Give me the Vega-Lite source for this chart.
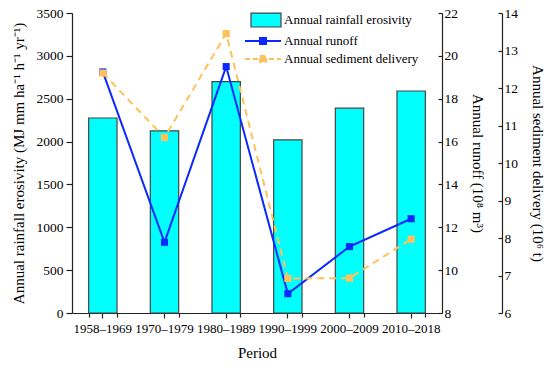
{
  "$schema": "https://vega.github.io/schema/vega-lite/v6.json",
  "width": 370,
  "height": 300,
  "autosize": "none",
  "padding": {"left": 72, "top": 13, "right": 108, "bottom": 53},
  "background": "white",
  "config": {
    "font": "Liberation Serif",
    "view": {"stroke": null},
    "axis": {
      "labelFont": "Liberation Serif",
      "titleFont": "Liberation Serif",
      "labelFontSize": 13,
      "titleFontSize": 15,
      "titleFontWeight": "normal",
      "labelColor": "black",
      "titleColor": "black",
      "domainColor": "#222",
      "tickColor": "#222",
      "domainWidth": 1.2,
      "tickWidth": 1.2,
      "labelOverlap": false,
      "grid": false
    },
    "legend": {"labelFont": "Liberation Serif", "labelFontSize": 13, "labelColor": "black"}
  },
  "data": {
    "values": [
      {"Period": "1958–1969", "erosivity": 2275, "runoff": 19.25, "sediment": 12.4},
      {"Period": "1970–1979", "erosivity": 2125, "runoff": 11.3, "sediment": 10.68},
      {"Period": "1980–1989", "erosivity": 2700, "runoff": 19.5, "sediment": 13.45},
      {"Period": "1990–1999", "erosivity": 2020, "runoff": 8.9, "sediment": 6.92},
      {"Period": "2000–2009", "erosivity": 2390, "runoff": 11.1, "sediment": 6.93},
      {"Period": "2010–2018", "erosivity": 2590, "runoff": 12.4, "sediment": 7.97}
    ]
  },
  "layer": [
    {
      "mark": {"type": "bar", "stroke": "#444", "strokeWidth": 1.2},
      "encoding": {
        "x": {
          "field": "Period", "type": "nominal", "sort": null,
          "scale": {"paddingInner": 0.54, "paddingOuter": 0.27},
          "axis": {"title": "Period", "labelAngle": 0, "tickSize": 5, "labelPadding": 4, "titlePadding": 10, "labelFont": "Liberation Serif", "labelFontSize": 13}
        },
        "y": {
          "field": "erosivity", "type": "quantitative",
          "scale": {"domain": [0, 3500], "nice": false},
          "axis": {"title": "Annual rainfall erosivity (MJ mm ha⁻¹ h⁻¹ yr⁻¹)", "format": "d", "values": [0, 500, 1000, 1500, 2000, 2500, 3000, 3500], "tickSize": 6, "labelPadding": 3, "titlePadding": 10, "labelFont": "Liberation Serif", "labelFontSize": 13.5}
        },
        "fill": {
          "datum": "Annual rainfall erosivity",
          "scale": {"domain": ["Annual rainfall erosivity"], "range": ["#00FFFF"]},
          "legend": {
            "title": null, "orient": "none", "legendX": 178, "legendY": -1.5,
            "symbolType": "M-1,-0.93H3V0.93H-1Z", "symbolSize": 225,
            "symbolStrokeColor": "#444", "symbolStrokeWidth": 1.2, "labelOffset": 17, "padding": 0
          }
        }
      }
    },
    {
      "encoding": {
        "x": {
          "field": "Period", "type": "nominal", "sort": null,
          "axis": {"title": null, "orient": "bottom", "labels": false, "domain": false, "tickBand": "extent", "tickSize": 4}
        },
        "y": {
          "field": "runoff", "type": "quantitative",
          "scale": {"domain": [8, 22], "nice": false},
          "axis": {"orient": "right", "title": "Annual runoff (10⁸ m³)", "format": "d", "values": [8, 10, 12, 14, 16, 18, 20, 22], "tickSize": -4, "labelPadding": 6, "titlePadding": 12, "labelFont": "Liberation Serif", "labelFontSize": 13.5}
        },
        "color": {
          "datum": "Annual runoff",
          "scale": {"domain": ["Annual runoff", "Annual sediment delivery"], "range": ["#0A28FF", "#FFC15A"]},
          "legend": {
            "title": null, "orient": "none", "legendX": 172, "legendY": 18,
            "symbolType": "M-1,0H3M0.67,-0.33H1.33V0.33H0.67Z", "symbolSize": 324,
            "symbolStrokeWidth": 2, "labelOffset": 20, "padding": 0, "rowPadding": 1,
            "encode": {
              "symbols": {
                "update": {
                  "fill": {"scale": "color", "field": "value"},
                  "stroke": {"scale": "color", "field": "value"},
                  "strokeDash": {"signal": "datum.value === 'Annual sediment delivery' ? [5, 3] : [1, 0]"}
                }
              }
            }
          }
        }
      },
      "layer": [
        {"mark": {"type": "line", "strokeWidth": 2}},
        {"mark": {"type": "point", "shape": "square", "filled": true, "size": 50, "opacity": 1}}
      ]
    },
    {
      "encoding": {
        "x": {"field": "Period", "type": "nominal", "sort": null, "axis": null},
        "y": {
          "field": "sediment", "type": "quantitative",
          "scale": {"domain": [6, 14], "nice": false},
          "axis": {"orient": "right", "offset": 60, "title": "Annual sediment delivery (10⁶ t)", "format": "d", "values": [6, 7, 8, 9, 10, 11, 12, 13, 14], "labelOverlap": false, "tickSize": -4, "labelPadding": 6, "titlePadding": 12, "labelFont": "Liberation Serif", "labelFontSize": 13.5}
        },
        "color": {"datum": "Annual sediment delivery"}
      },
      "layer": [
        {"mark": {"type": "line", "strokeWidth": 2, "strokeDash": [7, 5]}},
        {"mark": {"type": "point", "shape": "square", "filled": true, "size": 50, "opacity": 1}}
      ]
    }
  ],
  "resolve": {"scale": {"y": "independent"}, "axis": {"x": "independent", "y": "independent"}}
}
